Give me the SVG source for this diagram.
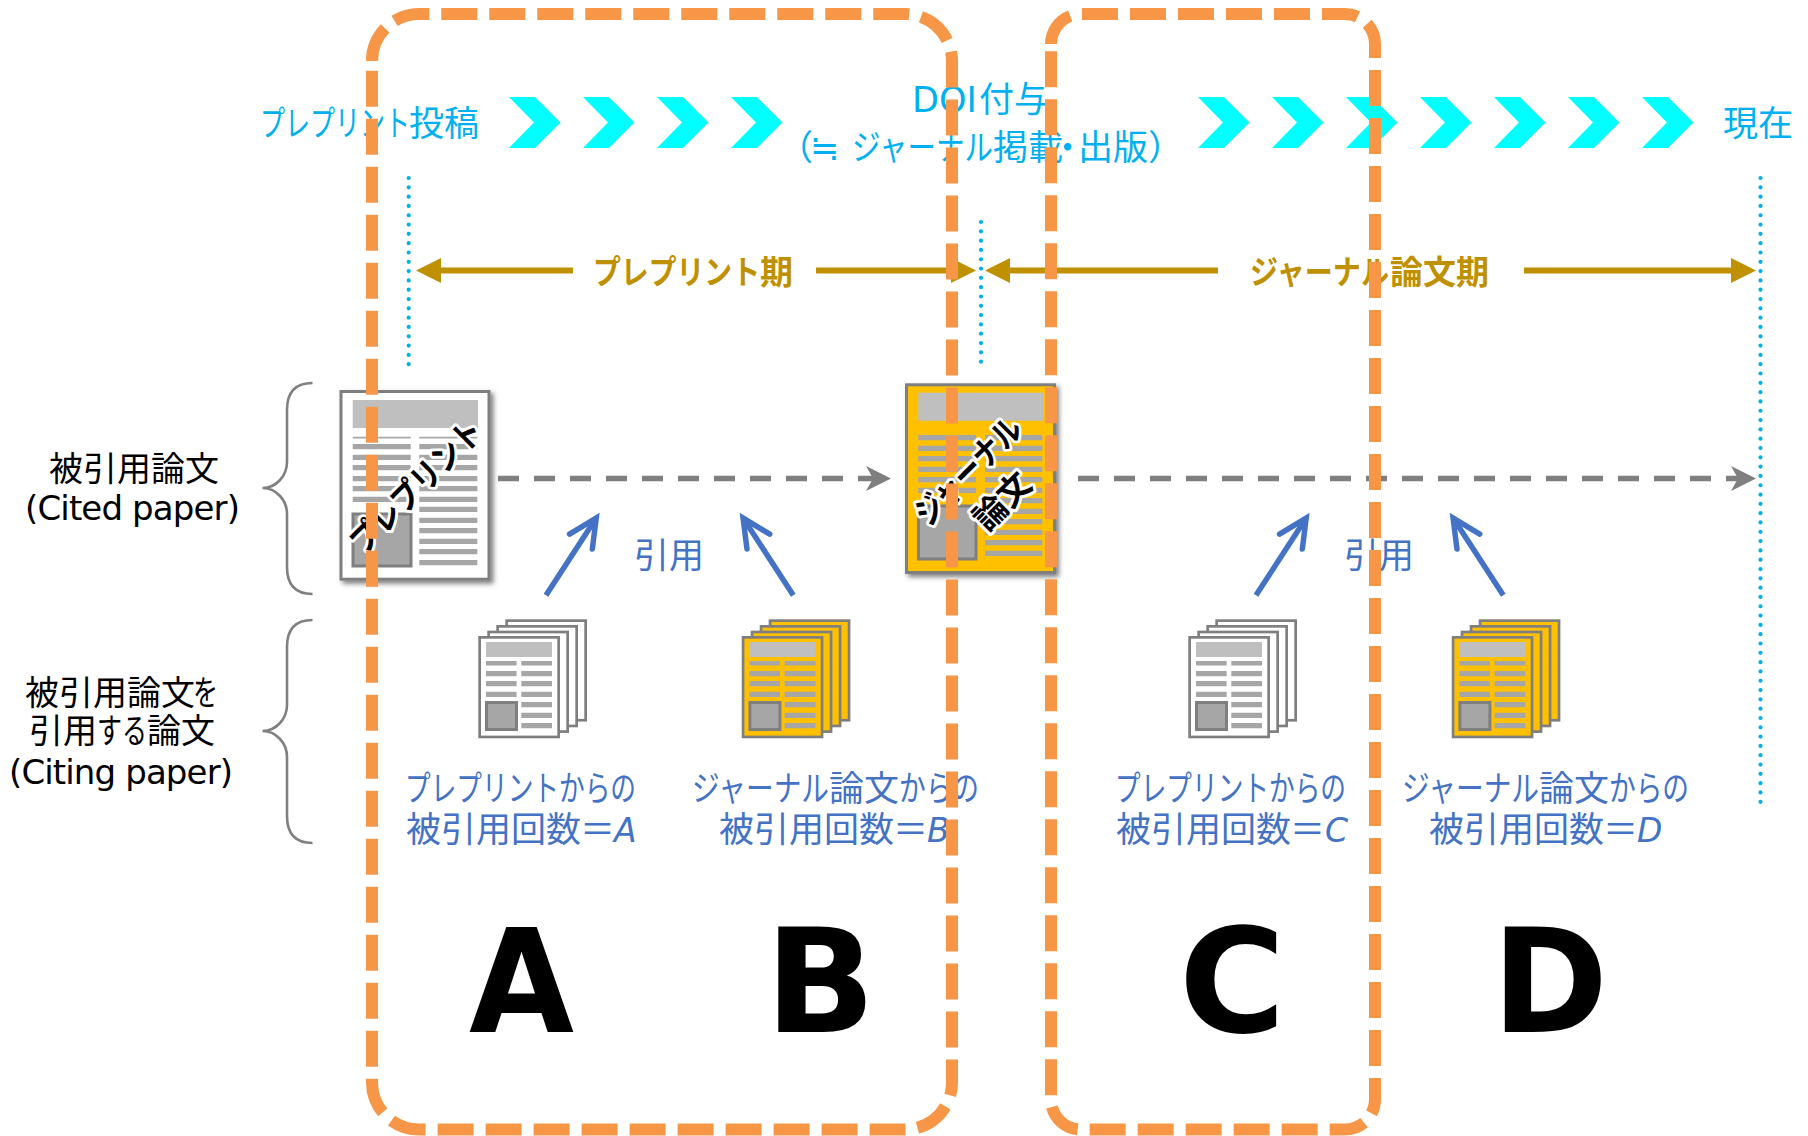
<svg xmlns="http://www.w3.org/2000/svg" xmlns:xlink="http://www.w3.org/1999/xlink" width="1808" height="1136" viewBox="0 0 1808 1136">
<style>
text{font-family:"DejaVu Sans","Noto Sans CJK JP",sans-serif}
.cy{fill:#00B0F0;font-size:35px}
.cj{font-family:"Noto Sans CJK JP",sans-serif}
.gd{fill:#BF9000;font-size:33px;font-weight:700}
.bk{fill:#000;font-size:34px}
.bl{fill:#4472C4;font-size:35px}
.bl .it{font-style:italic;font-size:33px}
.big{fill:#000;font-size:145px;font-weight:700}
.lab{fill:#000;font-size:33px;font-weight:700;stroke:#fff;stroke-width:6px;paint-order:stroke;stroke-linejoin:round;text-anchor:middle}
.dot{fill:none;stroke:#00B0F0;stroke-width:4.200;stroke-linecap:round;stroke-dasharray:0.01 9.3}
.gold{fill:none;stroke:#BF9000;stroke-width:6}
.grey{fill:none;stroke:#7F7F7F;stroke-width:5.500;stroke-dasharray:21 15}
.blue{fill:none;stroke:#4472C4;stroke-width:5.500}
.brace{fill:none;stroke:#808080;stroke-width:2.600}
.range{fill:none;stroke:#F79646;stroke-width:12;stroke-dasharray:36 12}
.pg{stroke:#7F7F7F;stroke-width:2.700}
.hd{fill:#BFBFBF}
.row{fill:#A6A6A6}
.pic{fill:#A6A6A6;stroke:#7F7F7F;stroke-width:3}
.paper{stroke:#7F7F7F;stroke-width:3}
</style>
<defs>
<polygon id="chev" points="0,97 26,97 51.500,122.500 26,148 0,148 25,122.500" fill="#00FFFF"/>
<filter id="sh" x="-10%" y="-10%" width="125%" height="125%"><feDropShadow dx="3" dy="3" stdDeviation="2.500" flood-color="#000" flood-opacity="0.5"/></filter>
<marker id="mGold" markerUnits="userSpaceOnUse" markerWidth="26" markerHeight="26" refX="0" refY="13" orient="auto" overflow="visible"><path d="M0,0.500 L25,13 L0,25.500z" fill="#BF9000"/></marker>
<marker id="mGrey" markerUnits="userSpaceOnUse" markerWidth="26" markerHeight="26" refX="7" refY="13" orient="auto" overflow="visible"><path d="M0,0.500 L25,13 L0,25.500 L7,13z" fill="#7F7F7F"/></marker>
<marker id="mBlue" markerUnits="userSpaceOnUse" markerWidth="60" markerHeight="60" refX="30" refY="30" orient="auto" overflow="visible"><path d="M2,16.400 L30,30 L2,43.600" fill="none" stroke="#4472C4" stroke-width="5.500" stroke-linecap="round" stroke-miterlimit="10"/></marker>
<g id="stack">
<rect class="pg" x="28.350" y="-15.350" width="79" height="99.600"/>
<rect class="pg" x="19.350" y="-9.650" width="79" height="99.600"/>
<rect class="pg" x="10.350" y="-4" width="79" height="99.600"/>
<rect class="pg" x="1.350" y="1.350" width="79" height="99.600"/>
<rect class="hd" x="7.700" y="6" width="66" height="15"/>
<path class="row" d="M7.700 25h30.600v4.500h-30.600zM7.700 35h30.600v5.300h-30.600zM7.700 45h30.600v5.300h-30.600zM7.700 55.700h30.600v5.300h-30.600zM43 25h30.700v4.500h-30.700zM43 35h30.700v5.300h-30.700zM43 45h30.700v5.300h-30.700zM43 55.700h30.700v5.300h-30.700zM43 66h30.700v5.300h-30.700zM43 76.700h30.700v5.300h-30.700zM43 87h30.700v5.300h-30.700z"/>
<rect class="pic" x="8.200" y="66.500" width="30" height="27"/>
</g>
</defs>

<g id="timeline-labels">
<text class="cy" y="135.500"><tspan x="260" textLength="150" lengthAdjust="spacingAndGlyphs">プレプリント</tspan><tspan x="409">投稿</tspan></text>
<text class="cy" x="912" y="111.500">DOI<tspan x="979">付与</tspan></text>
<text class="cy" y="159.500"><tspan x="778">（</tspan><tspan class="cj" x="810">≒</tspan><tspan x="852" textLength="141" lengthAdjust="spacingAndGlyphs">ジャーナル</tspan><tspan x="993">掲載</tspan><tspan x="1050">・</tspan><tspan x="1078">出版</tspan><tspan x="1148">）</tspan></text>
<text class="cy" x="1723" y="135.500">現在</text>
</g>
<g id="chevrons">
<use xlink:href="#chev" x="509"/><use xlink:href="#chev" x="583"/><use xlink:href="#chev" x="657"/><use xlink:href="#chev" x="731"/>
<use xlink:href="#chev" x="1198"/><use xlink:href="#chev" x="1272"/><use xlink:href="#chev" x="1346"/><use xlink:href="#chev" x="1420"/><use xlink:href="#chev" x="1494"/><use xlink:href="#chev" x="1568"/><use xlink:href="#chev" x="1642"/>
</g>
<g id="guides">
<line class="dot" x1="408.700" y1="178" x2="408.700" y2="365"/>
<line class="dot" x1="981" y1="222" x2="981" y2="363"/>
<line class="dot" x1="1760.500" y1="178" x2="1760.500" y2="810"/>
</g>
<g id="period-labels">
<text class="gd" y="284"><tspan x="593" textLength="167" lengthAdjust="spacingAndGlyphs">プレプリント</tspan><tspan x="760">期</tspan></text>
<text class="gd" y="284"><tspan x="1250" textLength="139" lengthAdjust="spacingAndGlyphs">ジャーナル</tspan><tspan x="1390">論文期</tspan></text>
</g>
<g id="connectors">
<line class="gold" x1="573" y1="270.500" x2="441" y2="270.500" marker-end="url(#mGold)"/>
<line class="gold" x1="816" y1="270.500" x2="951" y2="270.500" marker-end="url(#mGold)"/>
<line class="gold" x1="1218" y1="270.500" x2="1010" y2="270.500" marker-end="url(#mGold)"/>
<line class="gold" x1="1524" y1="270.500" x2="1731" y2="270.500" marker-end="url(#mGold)"/>
<line class="grey" x1="498" y1="478.500" x2="873" y2="478.500" marker-end="url(#mGrey)"/>
<line class="grey" x1="1078" y1="478.500" x2="1738" y2="478.500" marker-end="url(#mGrey)"/>
<line class="blue" x1="546" y1="595.300" x2="596.200" y2="518.100" marker-end="url(#mBlue)"/>
<line class="blue" x1="793.300" y1="595.300" x2="743.100" y2="518.100" marker-end="url(#mBlue)"/>
<line class="blue" x1="1256" y1="595.300" x2="1306.200" y2="518.100" marker-end="url(#mBlue)"/>
<line class="blue" x1="1503.300" y1="595.300" x2="1453.100" y2="518.100" marker-end="url(#mBlue)"/>
</g>
<g id="brace-cited">
<path class="brace" d="M312.500,383 C296,383 287,392 287,410 V462 C287,476 276,488 262.500,488 C276,488 287,500 287,514 V567 C287,585 296,594 312.500,594"/>
<text class="bk" x="49" y="481">被引用論文</text>
<text class="bk" x="25" y="519.500" textLength="215">(Cited paper)</text>
</g>
<g id="brace-citing">
<path class="brace" d="M312.500,620 C296,620 287,629 287,647 V705 C287,719 276,731 262.500,731 C276,731 287,743 287,757 V816 C287,834 296,843 312.500,843"/>
<text class="bk" y="705"><tspan x="25">被引用論文</tspan><tspan x="193" textLength="25" lengthAdjust="spacingAndGlyphs">を</tspan></text>
<text class="bk" y="743"><tspan x="29">引用</tspan><tspan x="97" textLength="50" lengthAdjust="spacingAndGlyphs">する</tspan><tspan x="147">論文</tspan></text>
<text class="bk" x="9" y="783.500" textLength="224">(Citing paper)</text>
</g>
<g id="doc-preprint">
<rect class="paper" x="341" y="391.500" width="148" height="187.700" fill="#fff" filter="url(#sh)"/>
<rect class="hd" x="352.700" y="400" width="125.300" height="28"/>
<path class="row" d="M352.700 436.700h58v1.700h-58zM352.700 444h58v5.300h-58zM352.700 454.700h58v5.300h-58zM352.700 465h58v5.300h-58zM352.700 476h58v5.300h-58zM352.700 486h58v5.300h-58zM352.700 496.700h58v5.300h-58zM419.300 436.700h58v1.700h-58zM419.300 444h58v5.300h-58zM419.300 454.700h58v5.300h-58zM419.300 465h58v5.300h-58zM419.300 476h58v5.300h-58zM419.300 486h58v5.300h-58zM419.300 496.700h58v5.300h-58zM419.300 506.700h58v5.300h-58zM419.300 517.700h58v5.300h-58zM419.300 528h58v5.300h-58zM419.300 538.700h58v5.300h-58zM419.300 549h58v5.300h-58zM419.300 560h58v5.300h-58z"/>
<rect class="pic" x="353" y="514" width="58" height="52" stroke-width="2"/>
<text class="lab" transform="translate(416,486) rotate(-45)" y="12" textLength="172" lengthAdjust="spacingAndGlyphs">プレプリント</text>
</g>
<g id="doc-journal">
<rect class="paper" x="906.500" y="384.800" width="148" height="187.700" fill="#FFC000" filter="url(#sh)"/>
<rect class="hd" x="918.300" y="392.700" width="125" height="28"/>
<path class="row" d="M918.300 435h57.700v5.300h-57.700zM918.300 445.700h57.700v5.300h-57.700zM918.300 456h57.700v5.300h-57.700zM918.300 466.700h57.700v5.300h-57.700zM918.300 477h57.700v5.300h-57.700zM918.300 487.700h57.700v5.300h-57.700zM985 435h57.300v5.300h-57.300zM985 445.700h57.300v5.300h-57.300zM985 456h57.300v5.300h-57.300zM985 466.700h57.300v5.300h-57.300zM985 477h57.300v5.300h-57.300zM985 487.700h57.300v5.300h-57.300zM985 498h57.300v5.300h-57.300zM985 508.700h57.300v5.300h-57.300zM985 519h57.300v5.300h-57.300zM985 529.700h57.300v5.300h-57.300zM985 540h57.300v5.300h-57.300zM985 550.700h57.300v5.300h-57.300z"/>
<rect class="pic" x="918.500" y="506" width="57.500" height="53" stroke-width="2"/>
<text class="lab" transform="translate(968,471) rotate(-45)" y="12" textLength="136" lengthAdjust="spacingAndGlyphs">ジャーナル</text>
<text class="lab" transform="translate(1002,501) rotate(-45)" y="12">論文</text>
</g>
<g id="citing-a">
<use xlink:href="#stack" x="478.300" y="636" fill="#fff"/>
<text class="bl" x="405" y="801" textLength="231" lengthAdjust="spacingAndGlyphs">プレプリントからの</text>
<text class="bl" y="842"><tspan x="406">被引用回数</tspan><tspan x="580">＝</tspan><tspan class="it" x="614">A</tspan></text>
</g>
<g id="citing-b">
<use xlink:href="#stack" x="741.700" y="636" fill="#FFC000"/>
<text class="bl" y="801"><tspan x="692" textLength="137" lengthAdjust="spacingAndGlyphs">ジャーナル</tspan><tspan x="829">論文</tspan><tspan x="899" textLength="80" lengthAdjust="spacingAndGlyphs">からの</tspan></text>
<text class="bl" y="842"><tspan x="719">被引用回数</tspan><tspan x="893">＝</tspan><tspan class="it" x="927">B</tspan></text>
</g>
<g id="citing-c">
<use xlink:href="#stack" x="1188.300" y="636" fill="#fff"/>
<text class="bl" x="1115" y="801" textLength="231" lengthAdjust="spacingAndGlyphs">プレプリントからの</text>
<text class="bl" y="842"><tspan x="1116">被引用回数</tspan><tspan x="1290">＝</tspan><tspan class="it" x="1325">C</tspan></text>
</g>
<g id="citing-d">
<use xlink:href="#stack" x="1451.700" y="636" fill="#FFC000"/>
<text class="bl" y="801"><tspan x="1402" textLength="137" lengthAdjust="spacingAndGlyphs">ジャーナル</tspan><tspan x="1539">論文</tspan><tspan x="1609" textLength="80" lengthAdjust="spacingAndGlyphs">からの</tspan></text>
<text class="bl" y="842"><tspan x="1429">被引用回数</tspan><tspan x="1603">＝</tspan><tspan class="it" x="1637">D</tspan></text>
</g>
<text class="bl" x="634" y="568">引用</text>
<text class="bl" x="1344" y="568">引用</text>
<text class="big" x="469" y="1032" textLength="105" lengthAdjust="spacingAndGlyphs">A</text>
<text class="big" x="765" y="1032">B</text>
<text class="big" x="1179" y="1032">C</text>
<text class="big" x="1492" y="1032" textLength="116" lengthAdjust="spacingAndGlyphs">D</text>
<g id="range-before">
<path class="range" d="M372,61 A47,47 0 0 1 419,14 H905 A47,47 0 0 1 952,61 V1082.500 A47,47 0 0 1 905,1129.500 H419 A47,47 0 0 1 372,1082.500 Z"/>
</g>
<g id="range-after">
<path class="range" d="M1051,44 A30,30 0 0 1 1081,14 H1345 A30,30 0 0 1 1375,44 V1099.500 A30,30 0 0 1 1345,1129.500 H1081 A30,30 0 0 1 1051,1099.500 Z"/>
</g>
</svg>
